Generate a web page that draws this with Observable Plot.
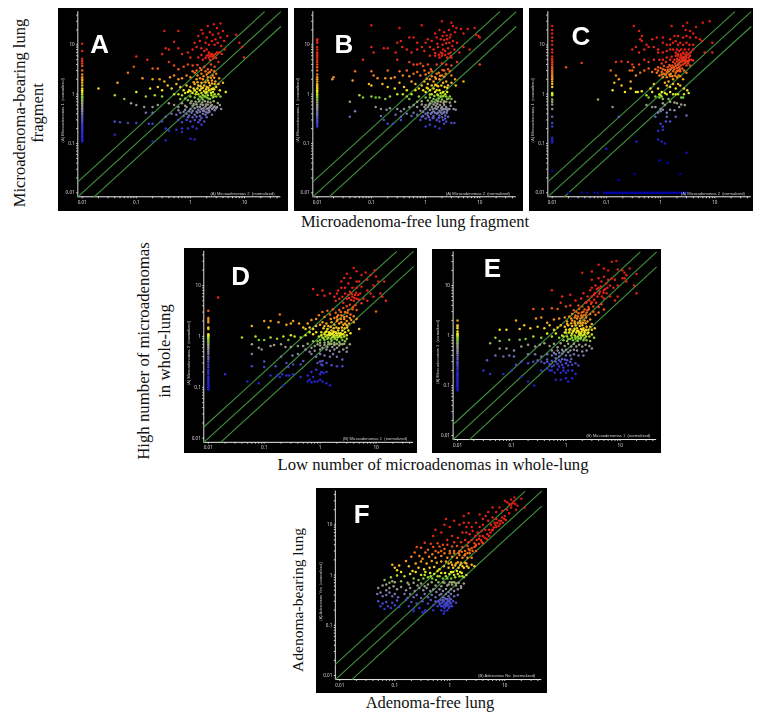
<!DOCTYPE html>
<html><head><meta charset="utf-8">
<script src="https://cdn.jsdelivr.net/npm/d3@7"></script>
<script src="https://cdn.jsdelivr.net/npm/@observablehq/plot@0.6"></script>
<style>
html,body{margin:0;padding:0;background:#fff}
#page{position:relative;width:757px;height:719px;overflow:hidden;background:#fff}
.cap{position:absolute;font-family:"Liberation Serif",serif;color:#111;white-space:nowrap;font-size:16.5px;line-height:1}
.rot{transform:translate(-50%,-50%) rotate(-90deg)}
.hor{transform:translate(-50%,-50%)}
</style></head><body><div id="page"></div>
<script>
const majorTicks=[0.01,0.1,1,10];
const minorTicks=[0.02,0.03,0.04,0.05,0.06,0.07,0.08,0.09,0.2,0.3,0.4,0.5,0.6,0.7,0.8,0.9,2,3,4,5,6,7,8,9,20,30,40];
const foldFactors=[2,1,0.5];
const axisLow=0.0083, axisHigh=47;

const pointsA=[0.33,19,0.6,19,2.7,26,3.6,27,3.1,22,2.1,24,1.6,20,4,19,4.8,15,7,16,9,9,9.8,5.5,8,11,
0.5,11.5,0.35,8.5,0.4,8,0.6,8.5,0.3,6.5,1.4,15,1.7,17,2,14,2.3,18,2.6,16,2.9,13,3.3,17,3.6,14,4.2,12,1.2,11,1.5,12,1.9,11,2.2,10,2.5,12,2.8,10,3.2,11,3.7,9.5,1.1,8,1.3,9,1.6,8.5,1.8,7.5,2,8,2.2,7,2.4,6.5,2.5,5.8,2.2,5.5,2,6,2.7,6,2.9,6.5,3.1,7,3.4,7,3.8,6.5,4.3,8,0.7,6.5,0.9,7,1,5.5,1.4,5.5,1.7,5,0.1,5.8,0.16,5,0.2,3.3,0.09,3.6,0.25,3.3,0.4,4.5,0.5,3.8,0.6,3.2,0.75,3.6,0.9,4,1.1,3.8,1.3,3,1.5,3.4,1.8,3.6,2.1,3.2,2.4,4,2.8,3.6,3.3,4.5,1.1,2.9,1.2,2.7,1.6,2.6,2,2.5,2.3,2.8,2.6,2.4,3,2.6,3.4,2.1,0.07,2.7,0.045,1.7,0.13,2.1,0.2,2,0.27,2,0.33,1.8,0.42,2.2,0.5,2.4,0.6,2,0.7,2.1,0.85,2.4,1,2.2,1.3,2,1.5,2.1,1.7,2,2.1,1.9,2.5,1.9,2.9,1.8,3.3,1.6,4,1.7,0.02,1.3,0.04,0.95,0.06,0.8,
0.1,1.1,0.18,1.3,0.25,1.4,0.3,1.2,0.38,1.5,0.45,1.3,0.55,1.6,0.65,1.4,0.75,1.2,0.85,1.5,1,1.4,1.2,1.6,1.4,1.5,1.6,1.3,1.8,1.5,2,1.4,2.3,1.5,2.6,1.3,3,1.4,3.5,1.2,4.5,1.1,0.15,0.9,0.22,0.95,0.3,0.9,0.5,1,0.6,1,0.7,0.95,0.8,1.05,0.9,1.1,1,1.15,1.1,1.05,1.2,1.2,1.3,1.1,1.4,1,1.5,1.2,1.6,1.05,1.7,0.95,1.8,1.15,1.9,1.05,2,1.1,2.1,0.95,2.2,1.2,2.4,1.05,2.6,1.1,2.8,1,3,0.9,3.3,1,3.6,0.9,1,0.9,1.2,.85,1.4,.8,1.5,.9,1.7,.78,2,.85,2.3,.8,2.6,.85,0.65,.8,.8,.82,.9,.75,
0.08,.65,0.1,.6,.14,.55,.2,.55,.25,.6,.4,.65,.5,.6,.6,.55,.7,.65,.8,.58,1,.65,1.1,.58,1.3,.62,1.5,.55,1.7,.6,1.9,.56,2.1,.62,2.3,.55,2.5,.6,2.8,.56,3.1,.55,3.5,.6,3.7,.5,1,.5,1.2,.52,1.4,.48,1.6,.5,1.8,.46,2,.5,2.2,.47,2.5,.5,2.8,.47,3,.52,.8,.48,.6,.47,
.15,.42,.2,.42,.35,.35,.45,.4,.55,.38,.65,.42,.75,.36,.85,.4,.95,.37,1.05,.42,1.2,.38,1.35,.42,1.5,.36,1.7,.4,1.9,.38,2.1,.42,2.5,.38,.04,.28,.05,.27,.07,.26,.1,.26,.17,.25,.2,.25,.3,.28,.6,.3,.7,.27,.85,.3,1,.28,1.2,.3,1.4,.27,1.5,.3,1.8,.28,.35,.2,.4,.18,.55,.19,.7,.2,.9,.2,1.1,.22,1.3,.2,1.6,.24,.04,.15,.2,.11,.35,.115,1,.125,1.2,.12,.7,.17,
2.15,6.3,2.35,5.9,2.55,6.4,2.65,5.3,2.3,4.9,1.9,5.4,1.6,6.2,3,5.4,1.35,3.9,1.6,3.1,1.9,2.9,2.15,2.7,2.45,3.1,2.75,2.9,1.35,2.4,1.75,2.3,2.1,2.2,2.4,2.15,2.75,2.15,1.15,1.75,1.35,1.75,1.6,1.7,1.9,1.75,2.2,1.7,2.5,1.65,2.8,1.6,1.15,1.3,1.35,1.3,1.55,1.45,1.7,1.35,1.95,1.25,2.15,1.35,2.45,1.25,2.75,1.25,.95,1.2,1.25,1,1.6,.85,1.85,.9,2.15,.82,2.45,.95,2.7,.9,1.05,.72,1.25,.7,1.45,.72,1.65,.68,1.85,.72,2.1,.7,2.35,.68,2.7,.72,3.2,.66,1.15,.63,1.35,.55,1.55,.62,1.75,.52,1.95,.62,2.15,.52,2.4,.58,2.65,.53,.85,.55,.95,.45,1.1,.46,1.3,.44,1.5,.44,1.7,.46,1.95,.43,2.25,.44,.75,.44,.9,.34,1.1,.34,1.3,.35,1.6,.33,2,.34];

const pointsB=[.1,25,.33,22,.85,25,1.8,20,2,30,3,28,3.2,24,3.7,22,4.5,21,6,21,8,22,9.5,15,10,14,8.5,16,1.5,17,2.2,18,2.7,20,3.5,18,5,17,.35,12,.5,14,.6,14,.7,11,.3,11,.1,9,.11,7,.17,8.5,.2,8.5,.28,7,.37,9,.45,8,.55,7,.7,8,.85,9,1,11,1.1,13,1.3,12,1.6,14,1.9,13,2.2,12.5,2.5,13,2.8,14,3.2,12,3.8,11,5,9,.95,7.5,1.2,9,1.4,8,1.7,9,1.9,7,2.1,8,2.3,7.5,2.6,8.5,2.9,7,3.4,8,4.2,7,6.5,8,10,4,1.2,6,1.5,6,1.8,5.5,2,6,2.5,5.5,3,5.5,.07,5,.3,5,.5,4.5,.6,4,.7,4,.8,4.2,.9,3.7,1.1,4,1.6,4,2,4.2,2.4,4,3,3.8,3.8,4.5,
.02,2.2,.019,2,.045,1.9,.05,2.9,.1,2.9,.11,2.4,.13,2.1,.18,2.1,.2,3,.23,2.1,.27,2.2,.33,2.9,.38,2.4,.45,3,.5,2.3,.6,2.6,.7,2.8,.8,2.4,.95,3,1,2.5,1.15,2.7,1.3,2.9,1.6,2.6,2,2.4,2.2,3,2.6,3.2,3,2.4,3.5,2,5,1.8,.09,1.6,.1,1.5,.16,1.6,.2,1.4,.27,1.3,.33,1.7,.4,1.4,.45,1.2,.55,1.8,.65,1.6,.75,1.3,.85,1.5,.95,1.8,1.1,1.6,1.2,2,1.4,1.8,1.6,1.5,1.8,2,2.1,1.7,2.4,1.8,2.6,1.5,3,1.7,3.6,1.5,
.06,.95,.07,.85,.1,.9,.12,.85,.14,.85,.18,.8,.22,.9,.3,1,.38,1,.45,.9,.5,.8,.55,1,.65,1.2,.75,.9,.9,1.2,1,1.1,1.1,1.3,1.2,1.2,1.3,1,1.4,1.3,1.5,1.1,1.6,1.2,1.7,.95,1.8,1.2,1.9,1.05,2,.9,2.1,1.1,2.3,1,2.5,1.1,2.8,.9,3,.8,3.5,.7,1,.85,1.2,.85,1.4,.8,1.6,.75,1.75,.82,2,.78,2.2,.72,2.5,.8,.7,.7,.85,.72,
.04,.7,.05,.45,.12,.55,.15,.5,.19,.48,.22,.52,.3,.5,.35,.45,.4,.5,.5,.55,.6,.6,.7,.55,.85,.62,1,.6,1.1,.55,1.2,.65,1.3,.55,1.4,.62,1.55,.58,1.7,.55,1.85,.6,2,.55,2.2,.6,2.4,.55,2.6,.5,2.9,.58,3.3,.5,3.6,.48,1,.5,1.2,.48,1.4,.45,1.6,.5,1.8,.46,2,.48,2.2,.44,2.5,.46,.8,.46,.6,.42,.35,.35,
.04,.35,.15,.36,.17,.3,.2,.25,.25,.25,.28,.38,.35,.3,.45,.4,.55,.36,.7,.38,.85,.35,1,.4,1.1,.37,1.25,.4,1.4,.36,1.6,.4,1.8,.37,2,.4,2.3,.37,2.6,.35,.8,.3,1,.32,1.2,.3,1.4,.33,1.6,.3,1.8,.28,2.1,.3,2.4,.28,3,.26,3.4,.26,1,.22,1.2,.24,1.5,.22,1.8,.2,2.2,.25,
1.5,6.8,1.75,6.3,2.05,6.7,2.3,6.2,2.65,6.6,2.9,5.9,1.65,10.5,2.05,10,2.4,10.8,2.75,11,3.1,9.5,2.05,15,2.45,15.5,2.9,16,1.25,3.2,1.5,2.2,1.75,2.7,2.05,3.1,2.35,2.6,2.8,2.9,1.05,2.05,1.3,2.3,1.55,2.05,1.85,2.35,2.2,2.25,1.05,1.35,1.3,1.5,1.5,1.55,1.7,1.45,1.95,1.5,2.25,1.4,2.5,1.35,1.2,.98,1.45,.92,1.65,.98,1.9,.88,2.15,.92,2.4,.9,2.65,.82,1.1,.74,1.3,.72,1.5,.68,1.7,.72,1.9,.7,2.15,.66,2.4,.7,2.8,.68,.95,.55,1.15,.6,1.35,.5,1.5,.52,1.65,.64,1.95,.52,2.15,.5,2.35,.5,2.75,.5,.9,.44,1.1,.42,1.3,.42,1.5,.42,1.7,.42,1.9,.43,2.15,.42,2.45,.42,.9,.36,1.15,.34,1.35,.33,1.75,.33,2,.34,2.3,.32];

const pointsC=[.32,24,1.6,24,3.1,28,2.6,24,4.5,23,6,28,8,30,.4,19,.45,15,2.9,20,3.5,19,4,17,.45,12,.42,13,.55,10,.7,13,.85,14,1.1,14,1.5,13,1.8,15,2.1,15,2.6,14,3,15,3.5,14,4.5,14,5.3,13,5.8,12,9,11,.3,8,.35,9,.4,7,.5,8,.6,9,.75,9,.9,8,1.1,11,1.3,10,1.5,10,1.7,11,1.9,12,2.1,10,2.3,11,2.6,10,3,11,3.4,10,4,10,.9,7,1.1,7,1.3,7.5,1.5,8,1.7,8,1.9,7,2,8,2.2,7.5,2.4,8,2.6,7,2.8,8,3,7,3.3,8,3.6,7,4,8,6.5,7,9,7,.035,4.3,.018,3.5,.15,4.5,.19,4.6,.25,4.5,.3,4,.32,3.5,.4,4,.5,5,.6,4.5,.75,5,.95,5,1.1,5,1.3,5.5,1.5,5,1.6,5.7,1.8,5,1.9,6,2,5.2,2.1,6,2.2,5,2.3,5.5,2.4,6,2.5,5,2.6,5.6,2.7,4.8,2.8,5.8,2.9,5,3,5.5,3.2,4.7,3.3,5.5,3.5,6,3.7,5,4,4.8,1.7,4.5,2,4.6,2.2,4.2,2.4,4.5,2.6,4,2.8,4.3,3,3.8,3.2,4.2,3.5,3.8,
.12,3,.15,2.4,.17,2,.27,3,.3,3,.35,2.4,.42,2.7,.5,3,.6,3.3,.7,2.8,.8,3.2,.85,2.7,.9,3,1,3.4,1.05,2.8,1.1,3.2,1.15,2.6,1.2,3.1,1.3,2.8,1.35,3.5,1.4,2.9,1.5,3.2,1.55,2.6,1.6,3.4,1.7,2.9,1.8,3.2,1.9,2.7,2,3.4,2.1,3,2.2,3.5,2.3,2.9,2.5,3.3,2.7,3,3,2.7,.95,2.4,1.1,2.2,1.3,2.2,1.5,2.3,1.7,2,2,2.2,2.3,2.3,2.6,2,
.14,1.7,.13,1.2,.19,1.5,.22,1.1,.28,1.8,.28,1.3,.35,1.1,.38,1.1,.45,1.15,.55,.95,.65,1.3,.7,1.1,.75,1.6,.9,1.3,.95,1,1.05,1.1,1.2,1.7,1.3,1.5,1.4,1.8,1.5,1.4,1.7,1.6,1.9,1.3,2.1,1.6,2.3,1.5,2.7,1.3,3.1,1.2,3.3,1.05,.07,.78,.6,.85,.8,.9,.95,.85,1,.95,1.05,.9,1.1,.8,1.2,1.05,1.3,1,1.4,.8,1.5,1.1,1.7,1,1.9,1,2.1,1,2.4,.85,2.6,.85,2.7,1,
.13,.55,.55,.6,.7,.55,.8,.55,1,.5,1.1,.65,1.2,.6,1.5,.7,1.8,.68,2,.65,2.2,.55,2.4,.62,2.8,.6,.9,.42,1,.45,1.1,.48,1.3,.42,1.5,.48,1.8,.47,.17,.35,.8,.35,1.3,.35,1.9,.35,3,.37,1,.25,1.1,.22,1.25,.28,.9,.18,1.1,.19,1.5,.28,.36,.11,.9,.12,1.05,.11,1.2,.1,.1,.078,3,.065,.95,.045,1.35,.04,.17,.018,.33,.024,2.3,.024,.02,.01,.035,.01,.045,.01,
2.05,6.5,2.35,6.4,2.65,6.6,2.95,6.3,3.25,6.4,2.15,4.8,2.45,5.2,2.75,5.2,3.05,4.6,3.4,5,1.85,4.2,2.1,3.9,2.35,3.8,2.6,4.7,2.9,4.5,3.3,4.6,1.05,4.2,1.25,4.5,1.45,3.9,1.65,3.8,1.9,3.7,1.15,3.7,1.35,3.1,1.5,3.7,1.75,3.5,2,2.9,2.25,3.2,.9,3.5,1.05,2.5,1.25,2.5,1.45,2.5,1.65,2.3,1.85,2.4,2.15,2.4];
const floorXC=[.06,.07,.09,.097,.105,.113,.12,.13,.14,.15,.16,.175,.19,.2,.22,.24,.26,.28,.3,.32,.35,.37,.4,.43,.47,.5,.54,.58,.63,.68,.73,.78,.85,.91,.98,1.05,1.13,1.22,1.3,1.4,1.5,1.65,1.75,1.9,2,2.2,2.35,2.55,2.75,2.9];

const pointsD=[.015,5.8,9.5,20,4,22,4.5,19,5.5,16,6.5,18,8,16,10,15,11,12,14,12,3,17,2.4,12,2.7,14,3.5,14,4.5,12,5,12,7,13,.75,8.5,.9,6.5,1.2,6.3,1.1,8,1.5,7,1.8,6,2.1,8,2,7,2.4,9,2.8,9,3.2,11,3.8,9,4.5,9,5.5,9.5,7,8,9,10,12,7,13,6,15,5,1.9,5,2.2,5.5,2.5,6,2.8,7,3,5.5,3.2,6.5,3.4,7.5,3.6,5.2,3.8,6,4,5,4.2,6.5,4.5,5.5,4.8,6.5,5.2,7,5.5,4.5,6,5.5,7,5,8,7,9,6,10,3.1,
.19,2.7,.1,2,.13,2,.06,1.6,.12,1.5,.18,1.9,.25,1.7,.3,1.8,.33,2,.42,1.8,.5,1.5,.6,1.8,.7,2.1,.85,2.2,.95,2.6,1.1,3,1.2,2.4,1.35,3.2,1.5,2.7,1.7,3.4,1.9,2.9,2,2.4,2.2,3.3,2.4,2.6,2.6,3.6,2.8,3,3,2.5,3.2,3.3,3.5,2.7,3.8,3.4,4,2.5,4.5,3.3,.55,1.4,.65,1.5,.75,1.4,.85,1.6,1,1.7,1.1,1.9,1.2,1.6,1.3,1.8,1.4,1.6,1.6,1.9,1.8,1.7,2,2,2.2,1.8,2.4,1.9,2.6,1.7,2.8,1.8,3,2,3.3,1.8,3.6,2.1,4,1.9,4.5,2.2,5,1.4,
.04,.95,.07,1,.08,.85,.1,.85,.13,.95,.17,.9,.22,1,.27,.85,.3,1.05,.35,1,.45,.95,.55,1.05,.65,1.2,.75,1.1,.85,1.2,.95,1,1.05,1.2,1.1,.95,1.2,1.1,1.25,1,1.3,1.25,1.35,1.05,1.4,.95,1.45,1.2,1.5,1.05,1.55,.9,1.6,1.3,1.65,1.1,1.7,1,1.75,1.25,1.8,1.05,1.85,.9,1.9,1.2,2,1.05,2.1,1.3,2.2,1,2.3,1.15,2.4,.95,2.5,1.3,2.6,1.1,2.8,1.2,3,1.05,3.2,1.3,3.5,1.15,1,.85,1.2,.85,1.4,.78,1.6,.82,1.8,.75,2,.85,2.2,.78,2.5,.85,2.8,.8,3,.9,.75,.8,.9,.8,
.06,.7,.08,.6,.09,.55,.13,.65,.15,.68,.2,.7,.24,.62,.3,.62,.4,.65,.5,.65,.6,.72,.7,.6,.8,.65,.9,.7,1,.66,1.1,.6,1.2,.68,1.35,.62,1.5,.7,1.65,.62,1.8,.68,2,.6,2.2,.66,2.5,.7,3,.6,3.4,.7,1,.55,1.3,.55,1.5,.52,1.8,.55,2.2,.5,2.6,.55,3,.5,.8,.52,.65,.5,.55,.55,
.06,.45,.1,.32,.2,.4,.25,.3,.32,.42,.4,.45,.5,.33,.7,.45,.85,.4,1,.45,1.1,.33,1.2,.42,1.5,.4,1.7,.45,2,.4,2.5,.35,.06,.26,.1,.25,.16,.26,.27,.25,.33,.28,.45,.28,.9,.3,1,.32,1.05,.28,1.1,.27,1.3,.3,1.6,.27,2,.26,2.5,.26,.02,.18,.05,.13,.08,.12,.13,.17,.17,.17,.19,.16,.21,.18,.25,.17,.28,.17,.33,.18,.45,.16,.6,.17,.75,.16,.7,.2,.85,.22,1,.18,1.05,.2,1.15,.19,1.3,.2,.6,.13,.65,.14,.7,.125,.8,.13,.9,.13,1,.14,1.1,.13,1.3,.12,1.5,.11,.22,.11,
3.3,5.7,3.7,6.8,4.1,5.7,4.4,7.2,4.9,5.3,2.6,4.6,3,3.9,3.4,4.2,3.9,3.8,4.3,4.1,2.1,2.6,2.35,3,2.7,2.4,3.1,2.9,3.4,2.3,1.55,2.2,1.8,2.3,2.05,2.15,2.35,2.2,2.7,2.2,3,1.65,1.15,1.45,1.35,1.4,1.55,1.55,1.75,1.45,1.95,1.5,2.15,1.45,2.45,1.5,2.75,1.45,3.05,1.5,1.05,1.05,1.15,.92,1.25,1.2,1.35,.9,1.45,1.1,1.55,1.15,1.65,.95,1.72,1.18,1.82,.98,1.95,1.15,2.05,.95,2.15,1.15,2.3,1.05,2.45,1.1,2.7,1,1,.75,1.2,.75,1.4,.7,1.6,.72,1.8,.7,2,.72,2.3,.72,2.7,.72];

const pointsE=[7,30,8.5,31,4,26,5,22,6,20,2,18,3,19,9,21,11,20,12,18,13,16,11,14,12,14,13,12,15,22,20,17,18,10,20,7,4,14,4.5,12,5,15,6,13,7,14,8,13,3,13,3.5,10,3,9,4,9,5,8,5.5,11,6.5,10,7.5,9,9,10,.55,8,.85,6,1.2,6.5,1.5,5,1.9,5.5,2.1,7,2.5,6,2.8,8,3,6,3.4,7,3.8,6,4.2,7.5,4.6,6,5,5.5,5.6,7,6.5,6,8,5,9,6,.25,3.4,.37,3.4,.55,3.5,.7,3.4,.8,4.5,1,3.8,1.2,4,1.4,3.2,1.7,4,2,3.8,2.3,4.5,2.6,3.7,2.9,4.3,3.2,3.8,3.6,4.5,4,3.7,4.5,4.2,5,3.3,1.3,2.7,1.5,2.5,1.7,2.8,1.9,2.5,2.1,3,2.3,2.6,2.5,3.2,2.8,2.7,3.2,3,3.5,2.6,4,2.9,
.12,2,.17,1.6,.28,2.2,.35,2.3,.45,1.8,.6,2.1,.75,2.2,.95,2.3,1.05,1.9,1.15,2.4,1.3,2,1.45,1.9,1.6,2.2,1.8,1.95,2,2.3,2.2,2,2.5,1.9,2.8,2.1,3,1.7,.06,1.3,.08,1.3,.14,1.35,.22,1.4,.3,1.5,.4,1.4,.5,1.6,.6,1.3,.7,1.45,.8,1.6,.95,1.5,1,1.3,1.1,1.6,1.2,1.35,1.3,1.55,1.4,1.25,1.5,1.6,1.6,1.4,1.7,1.25,1.8,1.55,1.9,1.35,2,1.6,2.1,1.4,2.2,1.25,2.4,1.5,2.6,1.3,2.8,1.5,3,1.3,3.4,1.4,
.05,.9,.06,.78,.09,.82,.14,.82,.18,.85,.25,.95,.35,.9,.45,1.1,.55,.95,.65,1.1,.75,.9,.85,1,.95,1.15,1.05,.95,1.15,1.15,1.25,1,1.35,1.2,1.45,1,1.55,1.15,1.65,.95,1.75,1.15,1.85,1,1.95,1.2,2.05,1,2.2,1.15,2.35,.95,2.5,1.1,2.7,.95,3,1.05,3.3,.9,.9,.8,1.05,.78,1.2,.85,1.35,.8,1.5,.85,1.65,.78,1.85,.85,2.1,.8,2.4,.8,2.8,.78,
.04,.7,.06,.55,.08,.55,.11,.5,.15,.6,.2,.65,.27,.6,.33,.65,.4,.7,.5,.62,.6,.68,.7,.58,.8,.7,.95,.62,1.1,.68,1.25,.6,1.4,.68,1.55,.6,1.75,.65,2,.6,2.3,.65,2.7,.62,3,.55,.55,.5,.7,.5,.85,.52,1,.52,1.2,.5,1.4,.52,1.6,.5,2,.48,2.4,.5,
.05,.4,.07,.38,.09,.4,.11,.38,.2,.42,.27,.42,.35,.38,.45,.42,.55,.4,.65,.42,.75,.38,.85,.43,1,.4,1.2,.4,1.4,.42,1.7,.4,2.1,.4,.03,.2,.035,.32,.04,.17,.07,.17,.1,.2,.12,.26,.15,.3,.2,.28,.25,.3,.3,.32,.35,.3,.4,.28,.45,.33,.5,.27,.55,.31,.6,.25,.65,.3,.7,.27,.75,.24,.8,.3,.85,.26,.9,.23,1,.28,1.1,.25,1.2,.3,1.3,.26,1.5,.28,1.7,.25,.15,.15,.2,.12,.26,.1,.35,.2,.45,.22,.55,.2,.62,.18,.7,.21,.8,.18,.9,.2,1,.18,1.1,.2,1.3,.2,1.5,.17,.65,.13,.8,.13,1,.14,1.1,.12,1.3,.14,
3.3,6.5,3.7,8.5,4.1,6.8,4.4,9.5,4.9,7.2,5.3,8.5,5.8,9,2.4,4.6,2.7,5,3,4.6,3.3,5.2,1.55,3,1.75,3.4,1.95,2.9,2.2,3.3,2.4,2.9,2.65,3.4,1.25,2.2,1.45,2.3,1.65,2.4,1.85,2.2,2.1,2.5,2.35,2.3,1.05,1.7,1.25,1.75,1.45,1.75,1.65,1.8,1.85,1.75,2.05,1.8,2.3,1.75,1,1.15,1.15,1.3,1.3,1.1,1.45,1.35,1.6,1.25,1.75,1.05,1.9,1.1,2.05,1.3,2.2,1.05,2.35,1.3,2.6,1.15,.9,.95,1.1,.85,1.3,.9,1.5,.92,1.7,.88,1.9,.9,2.2,.88,.6,.45,.75,.45,.9,.48,1.1,.46,.45,.3,.55,.24,.65,.35,.75,.32,.85,.34,.95,.33,1.05,.32,1.25,.34,.5,.2];

const pointsF=[20,33,15,35,13,32,11,28,10,30,14,27,17,24,23,22,16,20,8,22,6,22,5,18,4,13,7,18,9,19,11,20,12,17,13,22,9,14,10,15,7,13,8,12,6,14,5,12,4.5,15,3.5,16,2.2,17,1.8,15,.85,13,.8,10,.7,7,.55,8,.5,6,1,9,1.2,12,1.5,10,1.8,11,2,9,2.2,11,2.5,9,3,11,3.5,9,4,10,1.7,7,2,7,2.3,6.5,2.6,7.5,2.9,6,3.2,7,3.5,6,3.8,7.5,4,6,4.4,8,4.8,6.5,5.2,8,5.6,10,6,8,6.5,11,7,9,.9,5,1.1,6,1.2,4.5,1.4,5.5,1.6,4.5,1.9,5,2.2,4.5,2.5,5,2.8,4.3,3.1,5,3.4,4.2,3.7,5,4,4.3,
.25,3.6,.3,3.5,.35,4.4,.4,3.2,.45,4.2,.5,3.6,.55,3,.6,4.3,.65,3.7,.7,3,.75,4,.8,3.3,.9,4,1,3,1.1,3.7,1.2,3,1.35,3.8,1.5,3,1.7,3.6,1.9,3,2.1,3.8,2.3,3.1,2.5,3.4,2.8,3.6,3,3,.2,2.3,.23,2.8,.28,2.4,.32,2.1,.36,2.8,.42,2.3,.48,2.6,.55,2.2,.62,2.8,.7,2.4,.8,2.7,.9,2.2,1,2.7,1.1,2.3,1.2,2.7,1.35,2.2,1.5,2.5,1.7,2.2,1.9,2.6,2.1,2.2,2.3,2.7,2.5,2.2,.09,1.6,.1,1.4,.11,1.25,.12,1.55,.13,1.15,.16,1.9,.18,1.5,.21,1.2,.24,1.7,.27,1.4,.3,1.85,.34,1.3,.38,1.7,.43,1.4,.47,1.9,.52,1.45,.58,1.75,.65,1.3,.7,1.85,.78,1.5,.85,1.85,.95,1.4,1.05,1.8,1.15,1.4,1.3,1.7,1.45,1.4,1.6,1.75,1.8,1.4,2,1.7,2.2,1.4,2.5,1.6,2.8,1.5,
.065,.8,.07,.65,.08,.7,.085,.9,.09,.75,.1,.72,.11,.98,.13,.75,.15,.95,.17,.7,.19,1.05,.22,.85,.24,1.15,.27,.8,.3,1,.33,.85,.36,1.15,.4,.9,.44,1.1,.48,.85,.52,1.05,.56,.8,.6,1.2,.65,.95,.7,1.1,.75,.85,.82,1.1,.9,.85,.98,1.05,1.06,.85,1.15,1.15,1.25,.9,1.35,1.2,1.5,.95,1.65,1.1,1.8,.9,2,1,.18,.65,.22,.7,.26,.62,.3,.68,.35,.6,.4,.65,.47,.72,.55,.62,.62,.72,.7,.6,.8,.7,.9,.62,1,.72,1.1,.65,1.2,.72,1.3,.62,1.45,.7,1.6,.6,1.8,.68,
.05,.55,.06,.62,.07,.5,.08,.55,.095,.6,.11,.52,.13,.58,.16,.5,.19,.55,.23,.48,.28,.55,.33,.5,.38,.55,.44,.48,.5,.52,.57,.46,.65,.52,.75,.48,.85,.53,.95,.46,1.05,.52,1.2,.48,1.4,.52,1.6,.55,.048,.42,.055,.45,.06,.38,.07,.4,.08,.45,.09,.38,.1,.42,.115,.36,.15,.42,.17,.35,.19,.42,.22,.36,.25,.4,.3,.35,.35,.42,.4,.36,.47,.4,.55,.36,.65,.4,.75,.36,.85,.42,.95,.38,1.05,.42,1.2,.38,1.4,.4,.05,.3,.055,.24,.06,.27,.065,.21,.07,.29,.075,.24,.085,.22,.09,.28,.1,.25,.11,.31,.12,.23,.16,.32,.18,.24,.2,.29,.22,.21,.25,.27,.28,.22,.32,.3,.36,.2,.4,.27,.45,.32,.5,.25,.55,.3,.6,.24,.68,.32,.72,.28,.75,.24,.78,.3,.8,.22,.83,.27,.86,.33,.9,.25,.93,.3,.96,.22,1,.28,1.05,.33,1.1,.24,1.15,.3,1.3,.28,.7,.2,.8,.19,.9,.2,.78,.17,.22,.19,.32,.18,.35,.19,.5,.2,
5.5,7,5.9,7.8,6.3,8.8,6.8,10,7.3,11,7.7,9.5,8.2,10.5,8.6,12,9.2,11,9.8,13,10.5,12.5,13,25,14.5,29,15.5,26,12,26,3,4,3.4,5.3,3.8,4.6,4.3,5.5,4.7,5.2,5.2,6,2.2,3.3,2.6,3,2.95,3.8,1.45,2.7,1.65,2.9,1.85,2.45,2.1,2.75,.95,1.7,1.1,1.6,1.25,1.55,1.4,1.8,1.55,1.6,1.7,1.5,1.9,1.75,2.05,1.5,1.05,1.15,1.2,1,1.4,1.05,1.55,1.15,1.7,.95,.85,.95,.6,.95,.45,.95,.35,1,.75,.72,.95,.65,1.1,.72,1.3,.68,.7,.42,.8,.35,.9,.33,1,.34,.65,.28,.7,.24,.75,.32,.8,.26,.85,.24,.88,.28,.92,.26,.98,.3,1,.24,1.05,.27,.62,.3,.66,.26];

const stripA=[.11,.115,.12,.125,.13,.135,.14,.15,.16,.17,.18,.19,.2,.21,.22,.24,.26,.28,.3,.32,.35,.38,.41,.45,.48,.52,.56,.6,.65,.7,.75,.8,.85,.9,1,1.1,1.2,1.3,1.5,1.7,1.9,2,2.2,2.5,3,3.7,4.2,4.7,5.2,7.5,10.5];
const stripB=[.22,.24,.26,.28,.3,.33,.36,.39,.42,.46,.5,.54,.58,.62,.68,.74,.8,.86,.93,1,1.1,1.2,1.3,1.4,1.5,1.6,1.8,2,2.2,2.5,3,3.5,4,4.5,5,5.5,6,6.5,7,8,9,11,12,13];
const stripC=[.028,.105,.11,.12,.13,.22,.26,.35,.5,.62,.7,.78,.95,1,1.05,1.4,1.6,1.8,2,2.2,2.4,2.6,2.8,3,3.3,3.6,4,4.4,4.8,5.2,5.8,7,8,10,12,14,17,20,24];
const stripD=[.09,.095,.1,.105,.11,.115,.12,.13,.14,.15,.16,.18,.2,.22,.25,.28,.32,.36,.4,.45,.5,.55,.6,.65,.7,.75,.8,.85,.9,.95,1,1.05,1.1,1.4,1.5,1.9,2.1,2.3,3.2];
const stripE=[.08,.085,.09,.095,.1,.105,.11,.115,.12,.13,.14,.15,.16,.17,.18,.2,.22,.24,.26,.28,.3,.33,.36,.4,.44,.48,.52,.56,.6,.65,.7,.75,.8,.85,.9,.95,1,1.05,1.1,1.2,1.4,1.5,1.6,2];

const panels=[
 {letter:"A",pts:pointsA,strip:stripA,left:58,top:8,width:230,height:203,x001:23.7,x10:186,y001:184.3,y10:36.3,lx:.021,ly:10,xlabel:"(A) Microadenomas 2  (normalized)",ylabel:"(A) Microadenomas 1  (normalized)"},
 {letter:"B",pts:pointsB,strip:stripB,left:294,top:8,width:229,height:203,x001:22.7,x10:185.3,y001:184.3,y10:36.3,lx:.031,ly:10,xlabel:"(A) Microadenomas 2  (normalized)",ylabel:"(A) Microadenomas 1  (normalized)"},
 {letter:"C",pts:pointsC,strip:stripC,left:529,top:8,width:224,height:203,x001:22.7,x10:185.3,y001:184.3,y10:36.3,lx:.034,ly:14.8,xlabel:"(A) Microadenomas 2  (normalized)",ylabel:"(A) Microadenomas 1  (normalized)"},
 {letter:"D",pts:pointsD,strip:stripD,left:183.5,top:248,width:233.5,height:205,x001:23.8,x10:191.5,y001:189.7,y10:37,lx:.038,ly:15,xlabel:"(B) Microadenomas 1  (normalized)",ylabel:"(A) Microadenomas 3  (normalized)"},
 {letter:"E",pts:pointsE,strip:stripE,left:432,top:249,width:229,height:204,x001:25,x10:187.7,y001:186,y10:36,lx:.044,ly:21.6,xlabel:"(B) Microadenomas 1  (normalized)",ylabel:"(A) Microadenomas 3  (normalized)"},
 {letter:"F",pts:pointsF,strip:[],left:316,top:488,width:230.7,height:205,x001:23.3,x10:188.3,y001:187,y10:36.3,lx:.025,ly:16,xlabel:"(B) Adenomas No  (normalized)",ylabel:"(A) Adenomas Yes  (normalized)"}
];
const floorByLetter={C:floorXC};

const page=document.getElementById("page");
const colorScale={type:"log",domain:[.1,.2,.32,.5,.68,.85,1.1,1.7,2.8,5,40],
 range:["#1c1cc8","#2f2fd0","#5454c4","#8c8ca4","#a0a080","#78cc30","#f2f020","#f8b020","#f07018","#e82818","#d81810"]};
const fmt=d=>majorTicks.includes(d)?String(d):"";
const allTicks=[...majorTicks,...minorTicks];

for(const p of panels){
  const rows=[];
  for(let i=0;i<p.pts.length;i+=2) rows.push({x:p.pts[i],y:p.pts[i+1]});
  for(const v of p.strip) rows.push({x:0.01,y:v});
  for(const v of floorByLetter[p.letter]||[]) rows.push({x:v,y:0.01});
  const folds=foldFactors.map(f=>({x1:axisLow/Math.min(f,1),y1:axisLow*Math.max(f,1),x2:axisHigh/Math.max(f,1),y2:axisHigh*Math.min(f,1)}));
  const svg=Plot.plot({
    width:p.width,height:p.height,
    marginLeft:p.x001-4,marginBottom:p.height-p.y001-4.4,marginTop:0,marginRight:0,
    style:{position:"absolute",left:p.left+"px",top:p.top+"px",background:"#000",maxWidth:"none",filter:"blur(0.35px)"},
    x:{type:"log",domain:[0.01,10],range:[p.x001,p.x10]},
    y:{type:"log",domain:[0.01,10],range:[p.y001,p.y10]},
    color:colorScale,
    marks:[
      Plot.ruleY([axisLow],{x1:axisLow,x2:axisHigh,stroke:"#eee",strokeWidth:1}),
      Plot.ruleX([axisLow],{y1:axisLow,y2:axisHigh,stroke:"#ddd",strokeWidth:1}),
      Plot.axisX({ticks:allTicks,tickFormat:fmt,tickSize:1.5,tickPadding:2,fontSize:4.6,color:"#ddd",label:null}),
      Plot.axisY({ticks:allTicks,tickFormat:fmt,tickSize:1.5,tickPadding:2,fontSize:4.6,color:"#ddd",label:null}),
      Plot.link(folds,{x1:"x1",y1:"y1",x2:"x2",y2:"y2",stroke:"#3f953f",strokeWidth:1.1}),
      Plot.dot(rows,{x:"x",y:"y",fill:"y",r:1.25,stroke:null}),
      Plot.text([p.letter],{x:[p.lx],y:[p.ly],text:d=>d,fill:"#fff",fontSize:26,fontWeight:"bold",fontFamily:"Liberation Sans"}),
      Plot.text([p.xlabel],{x:[36],y:[0.0098],text:d=>d,textAnchor:"end",fill:"#ccc",fontSize:4.1,fontFamily:"Liberation Sans"}),
      Plot.text([p.ylabel],{x:[0.0044],y:[0.47],text:d=>d,rotate:-90,fill:"#ccc",fontSize:4.1,fontFamily:"Liberation Sans"})
    ]
  });
  page.appendChild(svg);
}

const captions=[
 ["Microadenoma-bearing lung",20,113,1,16.5],["fragment",38,113,1,16.5],["Microadenoma-free lung fragment",415,222,0,16.5],
 ["High number of microadenomas",144,351,1,16.8],["in whole-lung",165,351,1,16.8],["Low number of microadenomas in whole-lung",433,465,0,16.7],
 ["Adenoma-bearing lung",298,600,1,15.6],["Adenoma-free lung",430,703,0,16.5]
];
for(const [t,x,y,r,fs] of captions){
  const d=document.createElement("div");
  d.className="cap "+(r?"rot":"hor");
  d.style.left=x+"px";d.style.top=y+"px";d.style.fontSize=fs+"px";d.textContent=t;
  page.appendChild(d);
}
</script></body></html>
